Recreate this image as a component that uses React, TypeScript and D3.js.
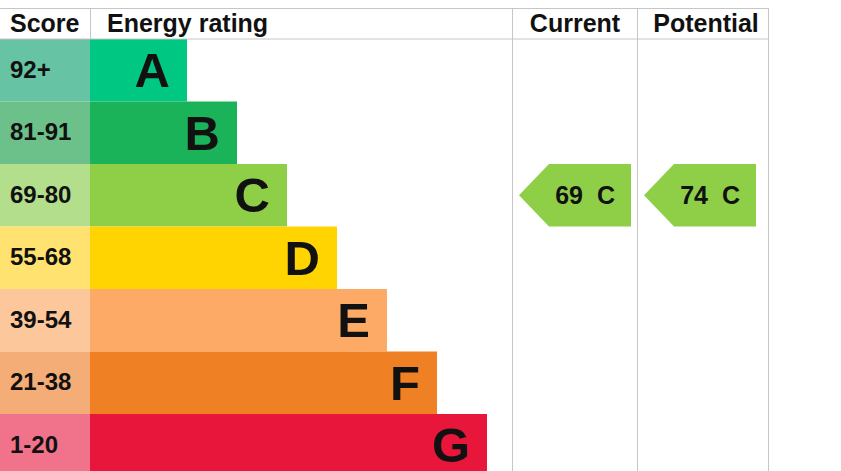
import React from 'react';
import * as d3 from 'd3';

const ratings = ['A', 'B', 'C', 'D', 'E', 'F', 'G'];
const scoreLabels = ['92+', '81-91', '69-80', '55-68', '39-54', '21-38', '1-20'];
const bandMins = [92, 81, 69, 55, 39, 21, 1];
const barColors = ['#00c781', '#1bb35a', '#8ecf47', '#ffd400', '#fcaa66', '#ef8024', '#e9163c'];
const scoreColors = ['#66c3a3', '#6cc18a', '#b3de8c', '#ffe270', '#fdc79c', '#f5ad78', '#f0738b'];
const currentScore = 69;
const potentialScore = 74;

const W = 841;
const H = 471;
const FONT = '"Liberation Sans", Arial, sans-serif';
const GRID = '#c6c6c6';

const bandOf = (score: number) => ratings[bandMins.findIndex((m) => score >= m)];

export default function App() {
  const top = 8;
  const headerBottom = 39;
  const rowH = 62.5;

  // columns
  const scoreX = 0;
  const ratingX = 90;
  const currentX = 512;
  const potentialX = 637;
  const rightX = 768;

  const y = d3.scaleBand<string>()
    .domain(ratings)
    .range([headerBottom, headerBottom + rowH * ratings.length])
    .padding(0);

  // bar right edges grow by a fixed step per band
  const barEnd = d3.scaleLinear().domain([0, ratings.length - 1]).range([187, 487]);

  const arrow = (colLeft: number, score: number) => {
    const band = bandOf(score);
    const y0 = y(band)!;
    const y1 = y0 + y.bandwidth();
    const tip = colLeft + 7;
    const body = colLeft + 37;
    const right = colLeft + 119;
    const mid = (y0 + y1) / 2;
    const path = d3.path();
    path.moveTo(tip, mid);
    path.lineTo(body, y0);
    path.lineTo(right, y0);
    path.lineTo(right, y1);
    path.lineTo(body, y1);
    path.closePath();
    const color = barColors[ratings.indexOf(band)];
    return (
      <g>
        <path d={path.toString()} fill={color} />
        <text x={right - 48} y={mid + 8.5} textAnchor="end" fontSize={25} fontWeight="bold" fill="#111">
          {score}
        </text>
        <text x={right - 34} y={mid + 8.5} textAnchor="start" fontSize={25} fontWeight="bold" fill="#111">
          {band}
        </text>
      </g>
    );
  };

  return (
    <svg
      width={W}
      height={H}
      viewBox={`0 0 ${W} ${H}`}
      style={{ position: 'fixed', left: 0, top: 0, background: '#fff', fontFamily: FONT }}
    >
      {/* rows */}
      {ratings.map((r, i) => {
        const y0 = y(r)!;
        const mid = y0 + y.bandwidth() / 2;
        return (
          <g key={r}>
            <rect x={scoreX} y={y0} width={ratingX - scoreX} height={y.bandwidth()} fill={scoreColors[i]} />
            <rect x={ratingX} y={y0} width={barEnd(i) - ratingX} height={y.bandwidth()} fill={barColors[i]} />
            <text x={10} y={mid + 7.5} fontSize={24} fontWeight="bold" fill="#111">
              {scoreLabels[i]}
            </text>
            <text x={barEnd(i) - 17} y={mid + 17} textAnchor="end" fontSize={49} fontWeight="bold" fill="#111">
              {r}
            </text>
          </g>
        );
      })}

      {/* grid lines */}
      <line x1={0} x2={rightX} y1={top + 0.5} y2={top + 0.5} stroke={GRID} />
      <line x1={0} x2={rightX} y1={headerBottom} y2={headerBottom} stroke={GRID} />
      <line x1={ratingX + 0.5} x2={ratingX + 0.5} y1={top} y2={headerBottom} stroke={GRID} />
      {[currentX, potentialX, rightX].map((x) => (
        <line key={x} x1={x + 0.5} x2={x + 0.5} y1={top} y2={H} stroke={GRID} />
      ))}

      {/* header */}
      <text x={10} y={32} fontSize={25} fontWeight="bold" fill="#111">Score</text>
      <text x={107} y={32} fontSize={25} fontWeight="bold" fill="#111">Energy rating</text>
      <text x={575} y={32} textAnchor="middle" fontSize={25} fontWeight="bold" fill="#111">Current</text>
      <text x={706} y={32} textAnchor="middle" fontSize={25} fontWeight="bold" fill="#111">Potential</text>

      {arrow(currentX, currentScore)}
      {arrow(potentialX, potentialScore)}
    </svg>
  );
}
